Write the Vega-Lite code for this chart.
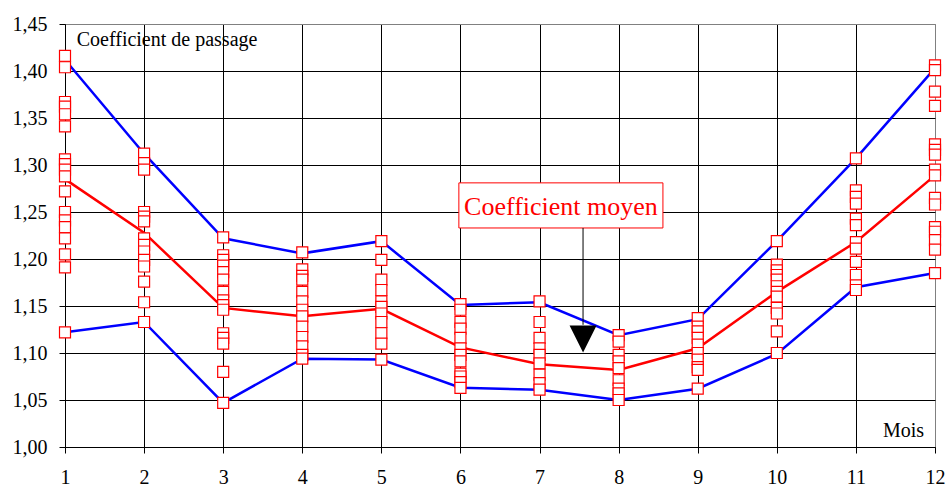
{
  "$schema": "https://vega.github.io/schema/vega-lite/v6.json",
  "width": 870,
  "height": 423,
  "autosize": {"type": "none"},
  "padding": {"left": 65, "top": 24, "right": 11, "bottom": 40},
  "background": "white",
  "config": {
    "view": {"stroke": "#808080", "strokeWidth": 1},
    "font": "Liberation Serif",
    "axis": {"labelFont": "Liberation Serif", "labelFontSize": 20, "labelColor": "#000", "domainColor": "#000", "tickColor": "#000", "tickSize": 6, "gridWidth": 1, "labelOverlap": false, "labelFlush": false, "title": null}
  },
  "datasets": {
    "lines": [
      {"m": 1, "s": "max", "v": 1.412}, {"m": 2, "s": "max", "v": 1.312}, {"m": 3, "s": "max", "v": 1.222}, {"m": 4, "s": "max", "v": 1.206}, {"m": 5, "s": "max", "v": 1.219}, {"m": 6, "s": "max", "v": 1.151}, {"m": 7, "s": "max", "v": 1.154}, {"m": 8, "s": "max", "v": 1.119}, {"m": 9, "s": "max", "v": 1.136}, {"m": 10, "s": "max", "v": 1.219}, {"m": 11, "s": "max", "v": 1.307}, {"m": 12, "s": "max", "v": 1.403},
      {"m": 1, "s": "min", "v": 1.122}, {"m": 2, "s": "min", "v": 1.133}, {"m": 3, "s": "min", "v": 1.047}, {"m": 4, "s": "min", "v": 1.094}, {"m": 5, "s": "min", "v": 1.093}, {"m": 6, "s": "min", "v": 1.063}, {"m": 7, "s": "min", "v": 1.061}, {"m": 8, "s": "min", "v": 1.050}, {"m": 9, "s": "min", "v": 1.062}, {"m": 10, "s": "min", "v": 1.099}, {"m": 11, "s": "min", "v": 1.170}, {"m": 12, "s": "min", "v": 1.185},
      {"m": 1, "s": "moyen", "v": 1.285}, {"m": 2, "s": "moyen", "v": 1.228}, {"m": 3, "s": "moyen", "v": 1.148}, {"m": 4, "s": "moyen", "v": 1.139}, {"m": 5, "s": "moyen", "v": 1.147}, {"m": 6, "s": "moyen", "v": 1.106}, {"m": 7, "s": "moyen", "v": 1.088}, {"m": 8, "s": "moyen", "v": 1.082}, {"m": 9, "s": "moyen", "v": 1.105}, {"m": 10, "s": "moyen", "v": 1.165}, {"m": 11, "s": "moyen", "v": 1.218}, {"m": 12, "s": "moyen", "v": 1.289}
    ],
    "pts": [
      {"m": 1, "v": 1.416}, {"m": 1, "v": 1.404}, {"m": 1, "v": 1.367}, {"m": 1, "v": 1.362}, {"m": 1, "v": 1.354}, {"m": 1, "v": 1.341}, {"m": 1, "v": 1.306}, {"m": 1, "v": 1.301}, {"m": 1, "v": 1.295}, {"m": 1, "v": 1.288}, {"m": 1, "v": 1.272}, {"m": 1, "v": 1.250}, {"m": 1, "v": 1.241}, {"m": 1, "v": 1.234}, {"m": 1, "v": 1.222}, {"m": 1, "v": 1.205}, {"m": 1, "v": 1.191}, {"m": 1, "v": 1.122},
      {"m": 2, "v": 1.312}, {"m": 2, "v": 1.302}, {"m": 2, "v": 1.295}, {"m": 2, "v": 1.250}, {"m": 2, "v": 1.245}, {"m": 2, "v": 1.240}, {"m": 2, "v": 1.222}, {"m": 2, "v": 1.215}, {"m": 2, "v": 1.208}, {"m": 2, "v": 1.199}, {"m": 2, "v": 1.192}, {"m": 2, "v": 1.176}, {"m": 2, "v": 1.154}, {"m": 2, "v": 1.133},
      {"m": 3, "v": 1.223}, {"m": 3, "v": 1.204}, {"m": 3, "v": 1.199}, {"m": 3, "v": 1.193}, {"m": 3, "v": 1.186}, {"m": 3, "v": 1.178}, {"m": 3, "v": 1.165}, {"m": 3, "v": 1.156}, {"m": 3, "v": 1.151}, {"m": 3, "v": 1.146}, {"m": 3, "v": 1.121}, {"m": 3, "v": 1.116}, {"m": 3, "v": 1.110}, {"m": 3, "v": 1.080}, {"m": 3, "v": 1.047},
      {"m": 4, "v": 1.207}, {"m": 4, "v": 1.189}, {"m": 4, "v": 1.182}, {"m": 4, "v": 1.178}, {"m": 4, "v": 1.165}, {"m": 4, "v": 1.155}, {"m": 4, "v": 1.146}, {"m": 4, "v": 1.139}, {"m": 4, "v": 1.128}, {"m": 4, "v": 1.117}, {"m": 4, "v": 1.107}, {"m": 4, "v": 1.098}, {"m": 4, "v": 1.094},
      {"m": 5, "v": 1.219}, {"m": 5, "v": 1.199}, {"m": 5, "v": 1.178}, {"m": 5, "v": 1.167}, {"m": 5, "v": 1.155}, {"m": 5, "v": 1.149}, {"m": 5, "v": 1.142}, {"m": 5, "v": 1.133}, {"m": 5, "v": 1.121}, {"m": 5, "v": 1.110}, {"m": 5, "v": 1.093},
      {"m": 6, "v": 1.152}, {"m": 6, "v": 1.146}, {"m": 6, "v": 1.133}, {"m": 6, "v": 1.126}, {"m": 6, "v": 1.116}, {"m": 6, "v": 1.105}, {"m": 6, "v": 1.098}, {"m": 6, "v": 1.091}, {"m": 6, "v": 1.078}, {"m": 6, "v": 1.075}, {"m": 6, "v": 1.069}, {"m": 6, "v": 1.063},
      {"m": 7, "v": 1.155}, {"m": 7, "v": 1.133}, {"m": 7, "v": 1.116}, {"m": 7, "v": 1.105}, {"m": 7, "v": 1.098}, {"m": 7, "v": 1.089}, {"m": 7, "v": 1.077}, {"m": 7, "v": 1.068}, {"m": 7, "v": 1.061},
      {"m": 8, "v": 1.119}, {"m": 8, "v": 1.112}, {"m": 8, "v": 1.098}, {"m": 8, "v": 1.091}, {"m": 8, "v": 1.084}, {"m": 8, "v": 1.071}, {"m": 8, "v": 1.062}, {"m": 8, "v": 1.057}, {"m": 8, "v": 1.050},
      {"m": 9, "v": 1.137}, {"m": 9, "v": 1.128}, {"m": 9, "v": 1.123}, {"m": 9, "v": 1.116}, {"m": 9, "v": 1.109}, {"m": 9, "v": 1.100}, {"m": 9, "v": 1.093}, {"m": 9, "v": 1.085}, {"m": 9, "v": 1.082}, {"m": 9, "v": 1.062},
      {"m": 10, "v": 1.219}, {"m": 10, "v": 1.194}, {"m": 10, "v": 1.188}, {"m": 10, "v": 1.183}, {"m": 10, "v": 1.178}, {"m": 10, "v": 1.171}, {"m": 10, "v": 1.165}, {"m": 10, "v": 1.160}, {"m": 10, "v": 1.148}, {"m": 10, "v": 1.142}, {"m": 10, "v": 1.123}, {"m": 10, "v": 1.100},
      {"m": 11, "v": 1.307}, {"m": 11, "v": 1.273}, {"m": 11, "v": 1.266}, {"m": 11, "v": 1.259}, {"m": 11, "v": 1.243}, {"m": 11, "v": 1.236}, {"m": 11, "v": 1.218}, {"m": 11, "v": 1.211}, {"m": 11, "v": 1.197}, {"m": 11, "v": 1.183}, {"m": 11, "v": 1.172}, {"m": 11, "v": 1.167},
      {"m": 12, "v": 1.406}, {"m": 12, "v": 1.401}, {"m": 12, "v": 1.378}, {"m": 12, "v": 1.363}, {"m": 12, "v": 1.322}, {"m": 12, "v": 1.316}, {"m": 12, "v": 1.311}, {"m": 12, "v": 1.295}, {"m": 12, "v": 1.289}, {"m": 12, "v": 1.265}, {"m": 12, "v": 1.258}, {"m": 12, "v": 1.234}, {"m": 12, "v": 1.229}, {"m": 12, "v": 1.220}, {"m": 12, "v": 1.210}, {"m": 12, "v": 1.185}
    ]
  },
  "layer": [
    {
      "data": {"name": "lines"},
      "mark": {"type": "line", "strokeWidth": 2.5},
      "encoding": {
        "x": {"field": "m", "type": "quantitative", "scale": {"domain": [1, 12], "nice": false, "zero": false},
          "axis": {"values": [1, 2, 3, 4, 5, 6, 7, 8, 9, 10, 11, 12], "format": "d", "grid": true, "labelPadding": 14,
            "gridColor": {"condition": {"test": "datum.value >= 11.99", "value": "#808080"}, "value": "#000000"}}},
        "y": {"field": "v", "type": "quantitative", "scale": {"domain": [1, 1.45], "nice": false, "zero": false},
          "axis": {"values": [1, 1.05, 1.1, 1.15, 1.2, 1.25, 1.3, 1.35, 1.4, 1.45], "grid": true, "labelPadding": 12,
            "labelExpr": "replace(format(datum.value, '.2f'), '.', ',')",
            "gridColor": {"condition": {"test": "datum.value >= 1.449", "value": "#808080"}, "value": "#000000"}}},
        "detail": {"field": "s"},
        "color": {"field": "s", "type": "nominal", "scale": {"domain": ["max", "min", "moyen"], "range": ["#0000FF", "#0000FF", "#FF0000"]}, "legend": null}
      }
    },
    {
      "data": {"name": "pts"},
      "mark": {"type": "point", "shape": "square", "size": 121, "filled": false, "fill": "white", "fillOpacity": 1, "stroke": "#FF0000", "strokeWidth": 1.2, "opacity": 1},
      "encoding": {
        "x": {"field": "m", "type": "quantitative"},
        "y": {"field": "v", "type": "quantitative"}
      }
    },
    {
      "data": {"values": [{"m": 5.98, "m2": 8.56, "v": 1.233, "v2": 1.281}]},
      "mark": {"type": "rect", "fill": "white", "stroke": "#FF0000", "strokeWidth": 1},
      "encoding": {
        "x": {"field": "m", "type": "quantitative"},
        "x2": {"field": "m2"},
        "y": {"field": "v", "type": "quantitative"},
        "y2": {"field": "v2"}
      }
    },
    {
      "data": {"values": [{"m": 7.271, "v": 1.2468, "t": "Coefficient moyen"}]},
      "mark": {"type": "text", "font": "Liberation Serif", "fontSize": 26, "color": "#FF0000", "align": "center", "baseline": "alphabetic"},
      "encoding": {
        "x": {"field": "m", "type": "quantitative"},
        "y": {"field": "v", "type": "quantitative"},
        "text": {"field": "t"}
      }
    },
    {
      "data": {"values": [{"m": 7.55, "v": 1.233, "v2": 1.13}]},
      "mark": {"type": "rule", "color": "#000000", "strokeWidth": 1},
      "encoding": {
        "x": {"field": "m", "type": "quantitative"},
        "y": {"field": "v", "type": "quantitative"},
        "y2": {"field": "v2"}
      }
    },
    {
      "data": {"values": [{"m": 7.55, "v": 1.115}]},
      "mark": {"type": "point", "shape": "M-1,-1L1,-1L0,1Z", "size": 729, "filled": true, "color": "#000000", "opacity": 1},
      "encoding": {
        "x": {"field": "m", "type": "quantitative"},
        "y": {"field": "v", "type": "quantitative"}
      }
    },
    {
      "data": {"values": [
        {"m": 1.148, "v": 1.4269, "t": "Coefficient de passage"}
      ]},
      "mark": {"type": "text", "font": "Liberation Serif", "fontSize": 20, "color": "#000000", "align": "left", "baseline": "alphabetic"},
      "encoding": {
        "x": {"field": "m", "type": "quantitative"},
        "y": {"field": "v", "type": "quantitative"},
        "text": {"field": "t"}
      }
    },
    {
      "data": {"values": [
        {"m": 11.861, "v": 1.011, "t": "Mois"}
      ]},
      "mark": {"type": "text", "font": "Liberation Serif", "fontSize": 20, "color": "#000000", "align": "right", "baseline": "alphabetic"},
      "encoding": {
        "x": {"field": "m", "type": "quantitative"},
        "y": {"field": "v", "type": "quantitative"},
        "text": {"field": "t"}
      }
    }
  ]
}
